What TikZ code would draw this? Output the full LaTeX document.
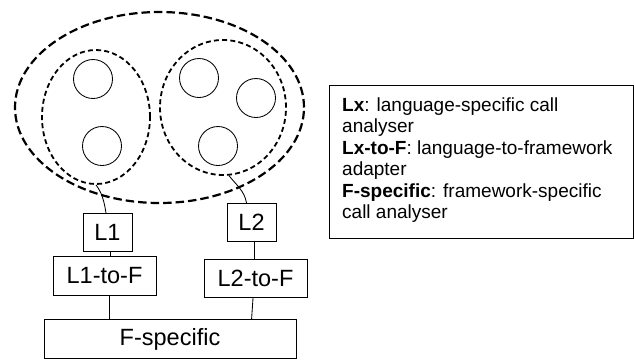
\documentclass[tikz,border=0pt]{standalone}
\usepackage{fontspec}
\setmainfont{Liberation Sans}
\usetikzlibrary{shapes.geometric,calc}
\begin{document}
\begin{tikzpicture}[x=1pt,y=-1pt,
  box/.style={draw, line width=0.85pt, inner sep=0pt, minimum height=38.5pt,
              font=\fontsize{23.5}{28}\selectfont},
  ball/.style={draw, circle, line width=0.85pt, minimum size=39pt, inner sep=0pt},
  group/.style={draw, ellipse, dash pattern=on 5pt off 3.2pt, line width=1.8pt, inner sep=0pt},
  outergroup/.style={draw, ellipse, dash pattern=on 8.5pt off 4pt, line width=2.2pt, inner sep=0pt},
  link/.style={line width=0.85pt}]
\useasboundingbox (0,0) rectangle (634,360);

% nested groups
\node[outergroup, minimum width=289pt, minimum height=191pt] (all) at (159.5,107.5) {};
\node[group, minimum width=108pt, minimum height=134pt] (lg) at (96,117) {};
\node[group, minimum width=126pt, minimum height=135pt] (rg) at (223,107.5) {};

% members of each group
\node[ball] (c1) at (93,79) {};
\node[ball] (c2) at (102,146) {};
\node[ball] (c3) at (199,78) {};
\node[ball] (c4) at (256,98) {};
\node[ball] (c5) at (218,146) {};

% analyser boxes
\node[box, minimum width=49pt] (L1) at (107.5,232.5) {L1};
\node[box, minimum width=49pt] (L2) at (251.5,222.5) {L2};
\node[box, minimum width=103pt] (L1F) at (104.5,276) {L1-to-F};
\node[box, minimum width=103pt] (L2F) at (255.5,278.5) {L2-to-F};
\node[box, minimum width=252pt] (F) at (170,339) {F-specific};

% connectors
\draw[link] (lg.south) .. controls +(6,8) and +(-2,-12) .. ([xshift=-1.5pt]L1.north);
\draw[link] (rg.-85) .. controls +(7,9) and +(-2,-12) .. ([xshift=-5pt]L2.north);
\draw[link] ([xshift=2.5pt]L1.south) -- ([xshift=2.5pt]L1.south |- L1F.north);
\draw[link] ([xshift=2.5pt]L2.south) -- ([xshift=2.5pt]L2.south |- L2F.north);
\draw[link] ([xshift=4.5pt]L1F.south) -- ([xshift=4.5pt]L1F.south |- F.north);
\draw[link] ([xshift=-2.5pt]L2F.south) -- ($(F.north west)+(208,0)$);

% legend
\node[draw, line width=1pt, minimum width=304pt, minimum height=153pt, inner sep=0pt,
      anchor=north west] (legend) at (329,85) {};
\node[anchor=north west, inner sep=0pt, align=left,
      font=\fontsize{19}{21.5}\selectfont] (legendtext) at (342,97.5)
  {\textbf{Lx}: language-specific call\\
   analyser\\
   \textbf{Lx-to-F}: language-to-framework\\
   adapter\\
   \textbf{F-specific}: framework-specific\\
   call analyser};
\end{tikzpicture}
\end{document}
